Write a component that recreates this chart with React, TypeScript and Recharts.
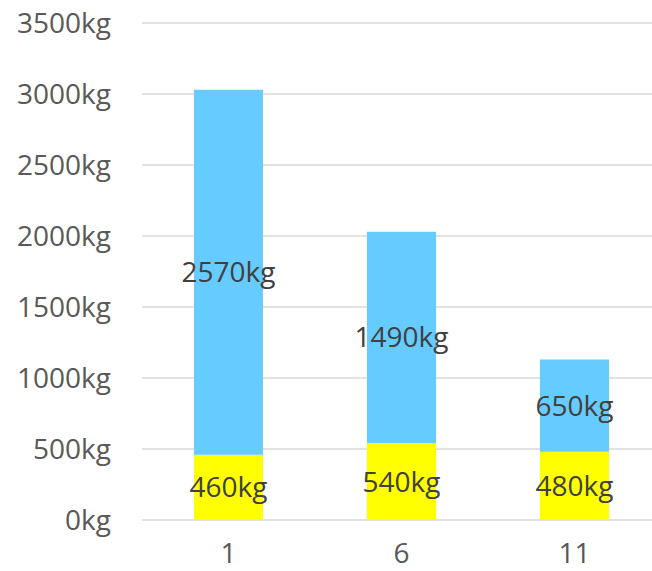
import { BarChart, Bar, XAxis, YAxis, CartesianGrid, LabelList } from 'recharts';

const categories = ['1', '6', '11'];
const lowerKg = [460, 540, 480];
const upperKg = [2570, 1490, 650];
const yTicks = [0, 500, 1000, 1500, 2000, 2500, 3000, 3500];

const data = categories.map((c, i) => ({ name: c, lower: lowerKg[i], upper: upperKg[i] }));

const kg = (v: number | string) => `${v}kg`;
const font = '"Open Sans", sans-serif';

export default function App() {
  return (
    <div
      style={{
        position: 'absolute',
        left: 0,
        top: 0,
        width: 652,
        height: 571,
        overflow: 'hidden',
        background: '#fff',
      }}
    >
      <BarChart
        width={661}
        height={571}
        data={data}
        margin={{ top: 23, right: 0, bottom: 0, left: 0 }}
        barSize={69}
      >
        <CartesianGrid vertical={false} stroke="#d9d9d9" strokeWidth={1.5} />
        <XAxis
          dataKey="name"
          axisLine={false}
          tickLine={false}
          height={51}
          tickMargin={17}
          tick={{ fontSize: 28, fill: '#595959', fontFamily: font }}
        />
        <YAxis
          domain={[0, 3500]}
          ticks={yTicks}
          width={142}
          axisLine={false}
          tickLine={false}
          tickMargin={25}
          tickFormatter={kg}
          tick={{ fontSize: 28, fill: '#595959', fontFamily: font }}
        />
        <Bar dataKey="lower" stackId="a" fill="#ffff00" isAnimationActive={false}>
          <LabelList
            dataKey="lower"
            position="center"
            formatter={kg}
            style={{ fontSize: 28, fill: '#404040', fontFamily: font }}
          />
        </Bar>
        <Bar dataKey="upper" stackId="a" fill="#66ccff" isAnimationActive={false}>
          <LabelList
            dataKey="upper"
            position="center"
            formatter={kg}
            style={{ fontSize: 28, fill: '#404040', fontFamily: font }}
          />
        </Bar>
      </BarChart>
    </div>
  );
}
